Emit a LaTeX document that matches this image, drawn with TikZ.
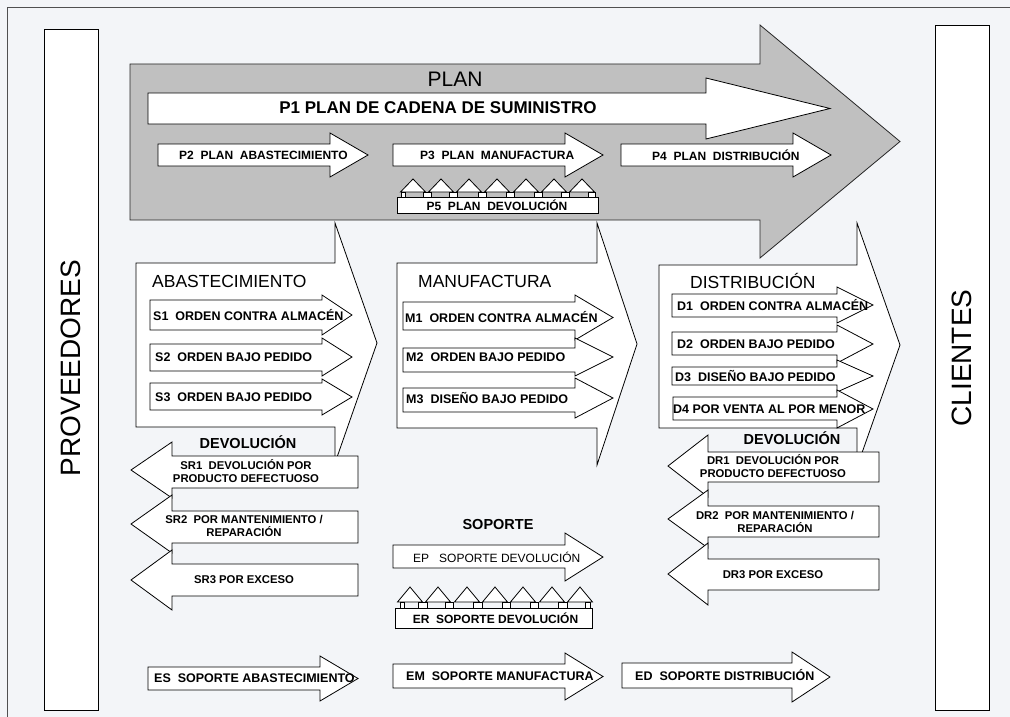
\documentclass[tikz,border=0pt]{standalone}
\usepackage{fontspec}
\setmainfont{Liberation Sans}
\definecolor{plangray}{HTML}{C0C0C0}
\definecolor{pagebg}{HTML}{F3F5F8}
\definecolor{framegray}{HTML}{505050}
% block arrow: [style]{shaft start x}{head base x}{tip x}{shaft top}{shaft bottom}{head top}{head bottom}
\newcommand{\blockarrow}[8][blk]{%
  \draw[#1] (#2,#5) -- (#3,#5) -- (#3,#7) -- (#4,{(#7+#8)/2}) -- (#3,#8) -- (#3,#6) -- (#2,#6) -- cycle;}
\newcommand{\setfs}[1]{\fontsize{#1}{#1}\selectfont}
\begin{document}
\begin{tikzpicture}[x={(1pt,0pt)}, y={(0pt,-1pt)},
  blk/.style={draw=black, line width=0.8pt, fill=white, line join=miter},
  planbk/.style={draw=black!85, line width=0.8pt, fill=plangray, line join=miter},
  framel/.style={draw=framegray, line width=0.9pt},
  endtxt/.style={font=\setfs{28}, inner sep=0},
  titletxt/.style={font=\setfs{21}, inner sep=0},
  sectxt/.style={font=\setfs{17.5}, anchor=west, inner sep=0},
  p1txt/.style={font=\bfseries\setfs{17}, inner sep=0},
  ptxt/.style={font=\bfseries\setfs{12}, anchor=west, inner sep=0},
  itemtxt/.style={font=\bfseries\setfs{12.5}, anchor=west, inner sep=0},
  devtxt/.style={font=\bfseries\setfs{14.5}, inner sep=0},
  rettxt/.style={font=\bfseries\fontsize{11.3}{13}\selectfont, align=center, inner sep=0},
  eptxt/.style={font=\setfs{12}, anchor=west, inner sep=0},
  ertxt/.style={font=\bfseries\setfs{12}, inner sep=0}
]
\useasboundingbox (0,0) rectangle (1010,717);
\fill[pagebg] (0,0) rectangle (1010,717);
% page frame
\draw[framel] (7,717) -- (7,7) -- (1010,7);

% suppliers and customers
\draw[blk] (44,29) rectangle (98,710);
\node[endtxt, rotate=90] (prov) at (71,368) {PROVEEDORES};
\draw[blk] (935,25) rectangle (989,710);
\node[endtxt, rotate=90] (cli) at (962,358) {CLIENTES};

% PLAN
\blockarrow[planbk]{130}{760}{900}{64}{220}{25}{258}
\node[titletxt] (plan) at (455,79) {PLAN};
\blockarrow{148}{706}{830}{93}{124}{78}{139}
\node[p1txt] (p1) at (438,108) {P1 PLAN DE CADENA DE SUMINISTRO};
\blockarrow{158}{330}{368}{144}{166}{133}{177}
\node[ptxt] (p2) at (179,155) {P2\ \ PLAN\ \ ABASTECIMIENTO};
\blockarrow{393}{565}{603}{144}{166}{133}{177}
\node[ptxt] (p3) at (420,155) {P3\ \ PLAN\ \ MANUFACTURA};
\blockarrow{621}{793}{831}{144}{166}{133}{177}
\node[ptxt] (p4) at (652,155) {P4\ \ PLAN\ \ DISTRIBUCIÓN};
% P5 with its small up arrows
\foreach \t in {413,441,469,497,526,554,582}
  \draw[blk] (\t,179) -- (\t+12.5,192) -- (\t-12.5,192) -- cycle;
\foreach \a/\b in {401/405,423/431,449/457,478/486,506/514,534/542,561/569,588/595}
  \draw[blk] (\a,192) rectangle (\b,197);
\draw[blk] (397,197) rectangle (598,213);
\node[ertxt] (p5) at (497,205.5) {P5\ \ PLAN\ \ DEVOLUCIÓN};

% ABASTECIMIENTO
\blockarrow{136}{335}{377}{263}{427}{223}{463}
\node[sectxt] (abas) at (152,281) {ABASTECIMIENTO};
\blockarrow{150}{322}{352}{300}{330}{295}{335}
\node[itemtxt] (s1) at (153,315) {S1\ \ ORDEN CONTRA ALMACÉN};
\blockarrow{150}{322}{352}{344}{371}{338}{376}
\node[itemtxt] (s2) at (155,357) {S2\ \ ORDEN BAJO PEDIDO};
\blockarrow{150}{322}{352}{383}{410}{379}{415}
\node[itemtxt] (s3) at (155,397) {S3\ \ ORDEN BAJO PEDIDO};

% MANUFACTURA
\blockarrow{397}{597}{637}{263}{428}{223}{465}
\node[sectxt] (manu) at (418,281) {MANUFACTURA};
\blockarrow{403}{575}{613}{302}{330}{295}{340}
\node[itemtxt] (m1) at (405,317) {M1\ \ ORDEN CONTRA ALMACÉN};
\blockarrow{403}{575}{613}{348}{372}{338}{376}
\node[itemtxt] (m2) at (406,357) {M2\ \ ORDEN BAJO PEDIDO};
\blockarrow{403}{575}{613}{388}{412}{378}{418}
\node[itemtxt] (m3) at (406,398) {M3\ \ DISEÑO BAJO PEDIDO};

% DISTRIBUCION
\blockarrow{659}{857}{900}{265}{428}{223}{467}
\node[sectxt] (dist) at (690,281) {DISTRIBUCIÓN};
\blockarrow{672}{837}{873}{294}{317}{287}{323}
\node[itemtxt] (d1) at (677,305) {D1\ \ ORDEN CONTRA ALMACÉN};
\blockarrow{672}{837}{873}{332}{355}{325}{363}
\node[itemtxt] (d2) at (677,344) {D2\ \ ORDEN BAJO PEDIDO};
\blockarrow{672}{837}{873}{367}{385}{360}{392}
\node[itemtxt] (d3) at (675,376) {D3\ \ DISEÑO BAJO PEDIDO};
\blockarrow{673}{837}{873}{397}{420}{390}{428}
\node[itemtxt] (d4) at (673,409) {D4 POR VENTA AL POR MENOR};

% returns, supply side
\node[devtxt] (devs) at (248,442) {DEVOLUCIÓN};
\blockarrow{358}{172}{131}{456}{488}{442}{498}
\node[rettxt] (sr1) at (246,471.5) {SR1\ \ DEVOLUCIÓN POR\\PRODUCTO DEFECTUOSO};
\blockarrow{358}{172}{131}{511}{543}{495}{553}
\node[rettxt] (sr2) at (244,526) {SR2\ \ POR MANTENIMIENTO /\\REPARACIÓN};
\blockarrow{358}{172}{131}{564}{596}{550}{610}
\node[rettxt] (sr3) at (244,580) {SR3 POR EXCESO};

% returns, delivery side
\node[devtxt] (devd) at (792,438) {DEVOLUCIÓN};
\blockarrow{879}{708}{668}{452}{482}{435}{497}
\node[rettxt] (dr1) at (773,466.5) {DR1\ \ DEVOLUCIÓN POR\\PRODUCTO DEFECTUOSO};
\blockarrow{879}{708}{668}{506}{537}{490}{548}
\node[rettxt] (dr2) at (775,521.5) {DR2\ \ POR MANTENIMIENTO /\\REPARACIÓN};
\blockarrow{879}{708}{668}{559}{590}{543}{605}
\node[rettxt] (dr3) at (773,575) {DR3 POR EXCESO};

% SOPORTE
\node[devtxt] (sop) at (498,525) {SOPORTE};
\blockarrow{393}{565}{603}{545}{568}{533}{581}
\node[eptxt] (ep) at (413,557) {EP\ \ \ SOPORTE DEVOLUCIÓN};
\foreach \t in {410,438,467,495,523,552,580}
  \draw[blk] (\t,587) -- (\t+12.5,602) -- (\t-12.5,602) -- cycle;
\foreach \a/\b in {400/404,418/427,445/453,473/482,502/510,530/538,558/567,585/590}
  \draw[blk] (\a,602) rectangle (\b,608);
\draw[blk] (395,608) rectangle (592,628);
\node[ertxt] (er) at (495.5,618.5) {ER\ \ SOPORTE DEVOLUCIÓN};

% support processes
\blockarrow{148}{320}{358}{667}{690}{656}{701}
\node[itemtxt] (es) at (154,678.5) {ES\ \ SOPORTE ABASTECIMIENTO};
\blockarrow{393}{565}{603}{664}{688}{653}{700}
\node[itemtxt] (em) at (406,676.5) {EM\ \ SOPORTE MANUFACTURA};
\blockarrow{622}{792}{830}{663}{688}{652}{702}
\node[itemtxt] (ed) at (635,675.5) {ED\ \ SOPORTE DISTRIBUCIÓN};
\end{tikzpicture}
\end{document}
